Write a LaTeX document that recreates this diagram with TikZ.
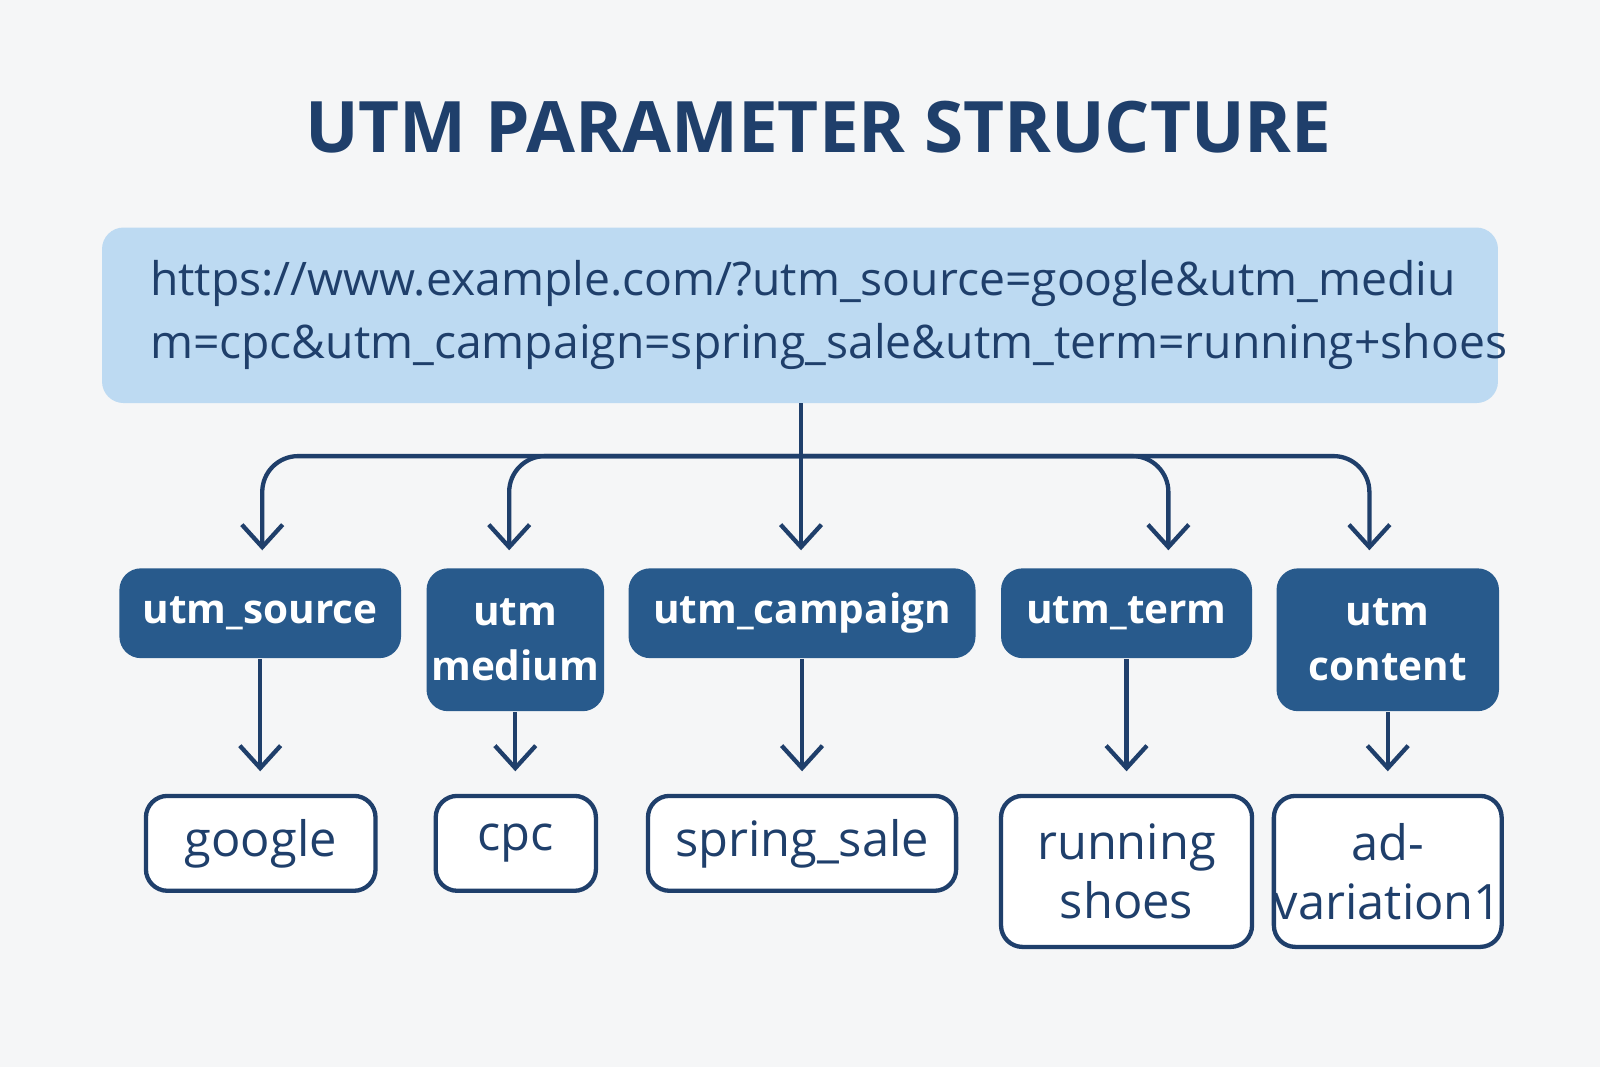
\documentclass[tikz,border=0pt]{standalone}
\usepackage{fontspec}
\setmainfont{Open Sans}
\usetikzlibrary{arrows.meta}
\definecolor{navy}{HTML}{1F3F6B}
\definecolor{bg}{HTML}{F5F6F7}
\definecolor{urlfill}{HTML}{BDDAF2}
\definecolor{dark}{HTML}{285A8C}
\begin{document}
\begin{tikzpicture}[
  dbox/.style={rectangle,rounded corners=6pt,fill=dark,text=white,font=\fontsize{11.3}{15.5}\selectfont\bfseries,align=center,inner sep=0pt},
  vbox/.style={rectangle,rounded corners=6pt,draw=navy,line width=1.2pt,fill=white,text=navy,font=\fontsize{13.6}{16.5}\selectfont,align=center,inner sep=0pt},
  arr/.style={draw=navy,line width=1.2pt,-{Straight Barb[length=2.2mm,width=4mm]}},
]
\useasboundingbox[fill=bg] (0,0.21) rectangle (15.68,10.67);
\node[text=navy,font=\fontsize{19.8}{24}\selectfont\bfseries] (title) at (8.02,9.42) {UTM PARAMETER STRUCTURE};
\node[rectangle,rounded corners=6pt,fill=urlfill,text=navy,minimum width=13.68cm,minimum height=1.72cm,text width=12.74cm,align=left,inner xsep=0.47cm,font=\fontsize{12.9}{17.6}\selectfont] (url) at (7.84,7.58) {https://www.example.com/?utm\_source=google\&utm\_mediu\\m=cpc\&utm\_campaign=spring\_sale\&utm\_term=running+shoes};

\node[dbox,minimum width=2.76cm,minimum height=0.88cm] (src) at (2.55,4.66) {utm\_source};
\node[dbox,minimum width=1.74cm,minimum height=1.40cm] (med) at (5.05,4.40) {utm\\medium};
\node[dbox,minimum width=3.40cm,minimum height=0.88cm] (cmp) at (7.86,4.66) {utm\_campaign};
\node[dbox,minimum width=2.46cm,minimum height=0.88cm] (trm) at (11.04,4.66) {utm\_term};
\node[dbox,minimum width=2.18cm,minimum height=1.40cm] (cnt) at (13.60,4.40) {utm\\content};

\node[vbox,minimum width=2.25cm,minimum height=0.93cm] (g) at (2.555,2.405) {google};
\node[vbox,minimum width=1.57cm,minimum height=0.93cm] (c) at (5.055,2.405) {cpc};
\node[vbox,minimum width=3.02cm,minimum height=0.93cm] (s) at (7.86,2.405) {spring\_sale};
\node[vbox,minimum width=2.46cm,minimum height=1.48cm] (r) at (11.04,2.13) {running\\shoes};
\node[vbox,minimum width=2.16cm,minimum height=1.48cm] (a) at (13.60,2.13) {ad-\\variation1};

\coordinate (j) at (7.85,6.20);
\coordinate (top) at (7.85,6.72);
\draw[navy,line width=1.2pt] (top) -- (j);
\draw[arr,rounded corners=10pt,shorten >=0.17cm] (j) -| ([xshift=0.02cm]src.north);
\draw[arr,rounded corners=10pt,shorten >=0.17cm] (j) -| ([xshift=-0.06cm]med.north);
\draw[arr,shorten >=0.17cm] (j) -- (j |- cmp.north);
\draw[arr,rounded corners=10pt,shorten >=0.17cm] (j) -| ([xshift=0.41cm]trm.north);
\draw[arr,rounded corners=10pt,shorten >=0.17cm] (j) -| ([xshift=-0.18cm]cnt.north);

\draw[arr,shorten >=0.22cm] (src.south) -- (src.south |- g.north);
\draw[arr,shorten >=0.22cm] (med.south) -- (med.south |- c.north);
\draw[arr,shorten >=0.22cm] (cmp.south) -- (cmp.south |- s.north);
\draw[arr,shorten >=0.22cm] (trm.south) -- (trm.south |- r.north);
\draw[arr,shorten >=0.22cm] (cnt.south) -- (cnt.south |- a.north);
\end{tikzpicture}
\end{document}
